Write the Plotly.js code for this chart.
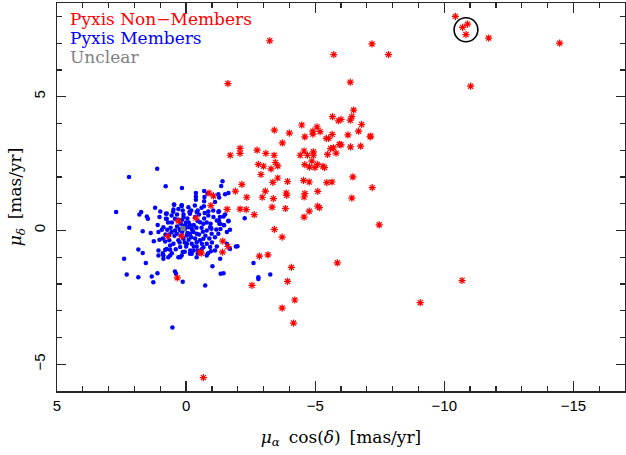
<!DOCTYPE html>
<html>
<head>
<meta charset="utf-8">
<script src="https://cdn.plot.ly/plotly-3.0.1.min.js"></script>
<style>html,body{margin:0;padding:0;background:#fff}#chart{width:626px;height:455px}</style>
</head>
<body>
<div id="chart"></div>
<script>
// Pyxis members (blue dots): proper motions [mas/yr]
var memberX = [2.21,1.12,0.79,0.16,-0.38,-0.38,-0.38,-0.7,-0.71,-1.41,-1.36,-1.64,-1.51,-1.25,-1.12,
  2.71,1.74,1.81,1.52,1.48,1.2,1.0,1.03,0.75,0.78,0.47,0.49,0.17,
  2.2,2.4,2.3,1.85,1.33,1.27,1.11,1.68,1.85,1.56,1.68,1.37,1.07,0.94,1.03,0.81,0.65,1.07,0.9,0.81,0.62,1.07,0.88,0.69,0.3,0.17,0.13,0.43,0.39,0.13,0.53,-0.16,-0.22,-0.41,-0.44,-0.61,-0.67,-0.96,-0.74,-1.02,-1.32,-1.34,-1.45,-1.19,-1.58,-1.93,-1.29,-1.47,-1.64,-0.96,-2.61,-2.8,-2.8,-3.26,
  -0.7,-0.83,-1.28,0.17,0.13,-0.09,-0.13,-0.45,-0.69,-0.72,-0.86,-1.27,-1.31,-1.27,-1.45,-1.46,-1.64,-1.33,-2.27,-1.99,-0.98,-1.17,
  0.46,0.17,-0.34,0.78,0.56,0.43,0.75,0.10,-0.15,-0.41,-0.54,-0.67,-0.86,-1.06,-1.25,-1.51,-1.32,-1.19,-0.93,-0.8,-0.99,-1.12,-1.25,-1.58,-1.7,0.88,0.73,0.56,0.43,0.36,0.23,0.04,-0.09,-0.22,-0.28,-0.41,-0.15,-0.03,0.10,0.30,0.49,0.62,0.75,0.23,-0.03,-0.22,-0.41,-0.54,-0.67,-0.8,-0.93,-0.28,-0.15,-0.41,-0.8,-1.7,-1.12,0.88,0.62,0.23,
  0.05,-0.1,0.2,-0.3,0.35,-0.45,0.15,-0.2,0.3,-0.05,0.1,-0.35,-0.6,-0.5,0.55,0.45,0.2,-0.1,0.0,-0.3,0.4,-0.6,-0.7,0.6,0.7,-0.8,-0.25,0.1,-0.15,0.25,-0.4,0.05,-0.5,0.35,-0.2,0.5,-0.9,0.9,-0.65,0.65,0.0,-0.05,0.15,-0.35,0.25,-0.75,-0.95,1.1,1.25,-1.05,-0.6,0.3,0.8,-0.45,0.05,0.55,-0.85,-1.0];
var memberY = [2.0,2.31,1.65,1.59,1.4,1.27,1.15,1.47,1.25,1.84,1.66,1.4,1.35,1.35,1.06,
  0.69,0.69,0.6,0.52,0.44,0.85,0.71,0.5,0.63,0.44,0.97,0.78,0.91,
  0.1,-1.06,-1.65,-1.75,-1.72,-1.94,-1.6,-0.84,-0.71,-1.22,-0.03,-0.1,-0.06,0.03,-0.35,-0.41,-0.37,-0.75,-0.85,-0.72,-0.72,-0.94,-0.94,-1.0,-1.0,-0.94,-0.81,-1.53,-1.62,-1.92,-3.63,-0.75,-0.87,-0.6,-0.75,-0.5,-0.63,-0.78,-2.06,-1.34,-1.06,-1.62,-1.6,-0.6,-0.5,-0.6,0.25,0.19,0.34,0.1,-1.22,-1.75,-1.81,-1.65,
  1.09,1.38,1.23,0.94,0.75,0.87,0.69,0.75,0.9,0.65,0.71,0.72,0.5,0.37,0.52,0.2,0.36,0.05,0.46,-0.59,0.06,0.04,
  0.96,0.93,0.93,0.62,0.56,0.44,0.44,0.5,0.62,0.69,0.31,0.25,0.56,0.5,0.69,0.6,0.25,0.37,0.12,0.0,-0.12,-0.25,-0.12,-0.06,0.03,0.12,0.03,-0.06,0.0,-0.12,0.0,0.19,0.12,0.06,-0.06,-0.12,-0.12,-0.19,-0.31,-0.37,-0.5,-0.56,-0.69,-0.62,-0.5,-0.5,-0.44,-0.37,-0.31,-0.5,-0.62,-0.75,-0.87,-1.0,-0.94,-0.69,-0.75,-1.06,-0.94,-1.0,
  0.05,0.3,0.25,0.2,0.15,0.35,-0.05,-0.25,0.4,0.45,0.6,0.5,0.1,-0.15,0.3,-0.2,-0.2,-0.35,-0.6,-0.6,-0.7,-0.7,0.45,0.1,0.3,0.3,0.0,0.15,0.2,0.05,0.1,-0.45,0.6,0.6,0.75,0.7,-0.3,-0.3,-0.05,-0.15,0.3,-0.1,0.4,-0.3,-0.45,-0.2,0.25,0.2,-0.4,0.75,0.85,0.8,-0.15,-0.85,-0.8,-0.85,-0.85,-0.45];

// Pyxis non-members (red asterisks)
var nonX = [-10.43,-10.71,-10.9,-10.84,-11.72,-14.47,-7.2,-5.72,-7.84,-6.36,-11.02,-6.49,-5.67,-6.42,-6.36,-5.9,-6.0,-6.8,-4.48,-5.07,-4.91,-4.91,-5.19,-6.27,-6.68,-4.6,-5.43,-5.52,-5.66,-7.13,-7.15,-5.94,-6.0,-6.37,-6.76,-4.57,-4.93,-4.93,-4.42,-4.7,-5.48,-5.6,-5.71,-5.81,-4.87,-4.6,-5.09,-4.78,-4.99,-5.3,-5.36,-6.46,-4.55,-4.77,-5.45,-5.65,-7.21,-5.1,-4.6,-4.57,-6.42,-5.1,-5.16,-4.77,-4.57,-7.48,-5.86,-9.07,-10.69,
  -3.42,-3.72,-2.84,-3.17,-4.08,-3.93,-2.55,-4.21,-3.72,-4.16,-0.67,0.34,0.17,0.71,-0.54,-0.59,-1.42,-1.62,-1.41,
  -3.24,-1.62,-3.42,-4.0,-3.73,-2.09,-2.09,-1.71,-2.75,-3.09,-3.41,-2.8,-3.0,-3.46,-3.55,-3.29,-2.9,-3.55,-3.36,-3.93,-2.16,-1.91,-2.35,-0.89,-1.06,-3.07,-2.95,-3.38,-3.88,-3.9,-0.96,-1.59,-2.09,-2.33,-2.64,-3.33,-3.85,-0.38,0.3];
var nonY = [8.0,7.59,7.71,7.32,7.19,7.0,6.97,6.57,6.57,5.54,5.39,4.5,4.25,4.25,4.12,4.1,4.15,3.96,3.94,3.87,3.71,3.6,3.69,3.57,3.71,3.5,3.44,3.44,3.59,3.5,3.53,3.22,3.2,3.12,3.15,2.97,2.94,2.81,2.81,2.81,2.84,3.06,3.09,2.89,2.59,2.46,2.47,2.37,2.35,2.4,2.35,2.0,1.87,1.81,1.79,1.81,1.6,1.46,1.38,1.25,1.21,0.91,0.85,0.72,0.5,0.21,-1.21,-2.7,-1.87,
  0.04,-0.25,-0.96,-0.91,-1.38,-1.9,-2.05,-2.6,-2.9,-3.46,-5.5,-1.77,-0.22,-0.22,-0.81,-0.85,-0.4,-0.6,-0.81,
  7.09,5.49,3.75,3.64,3.27,3.07,2.88,2.81,3.0,2.88,2.81,2.47,2.4,2.54,2.41,2.3,2.09,1.96,1.8,1.83,1.72,1.47,1.24,1.4,1.29,1.47,1.24,1.19,1.4,1.31,0.93,0.79,0.8,0.78,0.59,0.87,0.82,0.46,0.35];

// Unclear (gray)
var unclearX = [0.12];
var unclearY = [0.07];

// Highlighted group (circle)
var circleCenter = [-10.84, 7.5];
var circleRadius = [0.46, 0.45];

var legendLabels = ["Pyxis Non\u2212Members", "Pyxis Members", "Unclear"];
var legendColors = ["#ff0000", "#0000ff", "#808080"];

var axisColor = "#262626";

var traces = [
  {x: memberX, y: memberY, type: "scatter", mode: "markers",
   marker: {symbol: "circle", size: 4.5, color: "#0000ff"}, hoverinfo: "none"},
  {x: nonX, y: nonY, type: "scatter", mode: "markers",
   marker: {symbol: "asterisk-open", size: 6, color: "#ff0000", line: {color: "#ff0000", width: 1.2}}, hoverinfo: "none"},
  {x: unclearX, y: unclearY, type: "scatter", mode: "markers",
   marker: {symbol: "square", size: 5, color: "#808080"}, hoverinfo: "none"}
];

var annotations = legendLabels.map(function(t, i){
  return {text: t, xref: "paper", yref: "paper", x: 0.02, y: [0.958, 0.909, 0.86][i],
    xanchor: "left", yanchor: "middle", showarrow: false,
    font: {family: "DejaVu Serif", size: 17, color: legendColors[i]}};
});

var layout = {
  width: 626, height: 455,
  margin: {l: 57, r: 1, t: 3, b: 64},
  paper_bgcolor: "#fff", plot_bgcolor: "#fff",
  showlegend: false,
  xaxis: {
    range: [5, -17], dtick: 5, tick0: 0, showgrid: false, zeroline: false,
    showline: true, linecolor: axisColor, linewidth: 1.5, mirror: "ticks",
    ticks: "inside", ticklen: 10, tickwidth: 1.2, tickcolor: axisColor,
    minor: {dtick: 1, ticks: "inside", ticklen: 5, tickwidth: 1.2, tickcolor: axisColor, showgrid: false},
    tickfont: {family: "Liberation Sans", size: 15, color: "#000"},
    title: {text: "<i>\u03bc</i><sub><i>\u03b1</i></sub>\u2009 cos(<i>\u03b4</i>)\u2009 [mas/yr]", font: {family: "DejaVu Serif", size: 17, color: "#000"}, standoff: 18}
  },
  yaxis: {
    range: [-6, 8.5], dtick: 5, tick0: 0, showgrid: false, zeroline: false,
    showline: true, linecolor: axisColor, linewidth: 1.5, mirror: "ticks",
    ticks: "inside", ticklen: 9, tickwidth: 1.2, tickcolor: axisColor,
    minor: {dtick: 1, ticks: "inside", ticklen: 5, tickwidth: 1.2, tickcolor: axisColor, showgrid: false},
    tickangle: -90, ticklabelstandoff: 5,
    tickfont: {family: "Liberation Sans", size: 15, color: "#000"},
    title: {text: "<i>\u03bc</i><sub><i>\u03b4</i></sub>\u2009 [mas/yr]", font: {family: "DejaVu Serif", size: 17, color: "#000"}, standoff: 4}
  },
  shapes: [{type: "circle", xref: "x", yref: "y",
    x0: circleCenter[0] + circleRadius[0], x1: circleCenter[0] - circleRadius[0],
    y0: circleCenter[1] - circleRadius[1], y1: circleCenter[1] + circleRadius[1],
    line: {color: "#000", width: 1.6}}],
  annotations: annotations
};

Plotly.newPlot("chart", traces, layout, {staticPlot: true, displayModeBar: false});
</script>
</body>
</html>
